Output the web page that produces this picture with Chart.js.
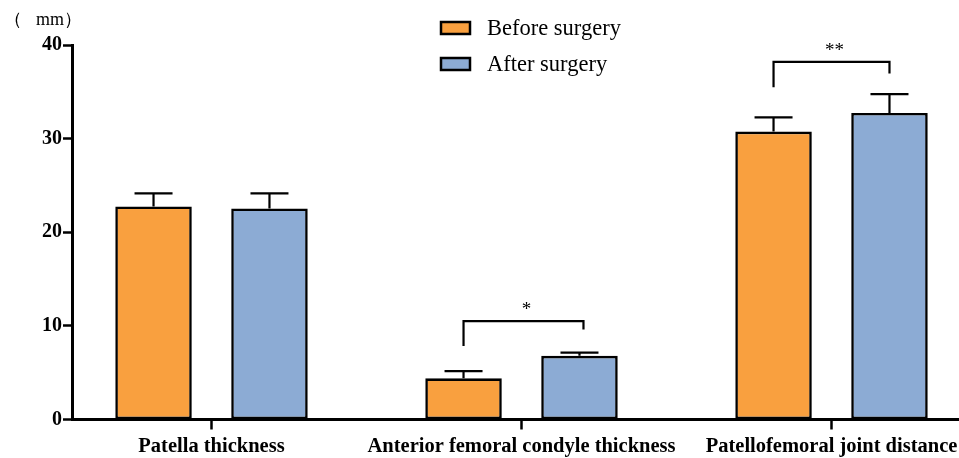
<!DOCTYPE html>
<html>
<head>
<meta charset="utf-8">
<script src="https://cdn.jsdelivr.net/npm/chart.js@4"></script>
<style>
html, body { margin: 0; padding: 0; overflow: hidden; background: #fff; }
#wrap { width: 1000px; height: 458px; }
</style>
</head>
<body>
<div id="wrap"><canvas id="chart"></canvas></div>
<script>
const categories = ['Patella thickness', 'Anterior femoral condyle thickness', 'Patellofemoral joint distance'];
const seriesNames = ['Before surgery', 'After surgery'];
const beforeMean = [22.75, 4.4, 30.75];
const beforeSD = [1.4, 0.76, 1.52];
const afterMean = [22.55, 6.8, 32.75];
const afterSD = [1.6, 0.34, 2.0];
const yTicks = [0, 10, 20, 30, 40];
// significance brackets: category, label, bracket top, left leg end, right leg end
const brackets = [
	{cat: 1, label: '*', top: 10.5, left: 7.85, right: 9.6},
	{cat: 2, label: '**', top: 38.2, left: 35.5, right: 36.95}
];

const serif = "'Liberation Serif', 'Times New Roman', serif";
const colors = ['#F9A03F', '#8CABD4'];

const extras = {
	id: 'extras',
	afterDatasetsDraw(chart)
	{
		const {ctx, scales: {y}} = chart;
		ctx.save();
		ctx.strokeStyle = '#000';
		ctx.lineWidth = 2.2;

		// error bars (upper only)
		chart.data.datasets.forEach((ds, i) => {
			chart.getDatasetMeta(i).data.forEach((bar, j) => {
				const top = y.getPixelForValue(ds.data[j].y + ds.sd[j]);
				ctx.beginPath();
				ctx.moveTo(bar.x, bar.y);
				ctx.lineTo(bar.x, top);
				ctx.moveTo(bar.x - 19, top);
				ctx.lineTo(bar.x + 19, top);
				ctx.stroke();
			});
		});

		// brackets
		ctx.fillStyle = '#000';
		ctx.textAlign = 'center';
		ctx.textBaseline = 'alphabetic';
		ctx.font = '19px ' + serif;
		brackets.forEach(b => {
			const x1 = chart.getDatasetMeta(0).data[b.cat].x;
			const x2 = chart.getDatasetMeta(1).data[b.cat].x + (b.cat === 1 ? 4 : 0);
			const yt = y.getPixelForValue(b.top);
			ctx.beginPath();
			ctx.moveTo(x1, y.getPixelForValue(b.left));
			ctx.lineTo(x1, yt);
			ctx.lineTo(x2, yt);
			ctx.lineTo(x2, y.getPixelForValue(b.right));
			ctx.stroke();
			ctx.fillText(b.label, (x1 + x2) / 2 + 3, yt - 6);
		});

		// legend
		ctx.textAlign = 'left';
		ctx.font = '22.5px ' + serif;
		chart.data.datasets.forEach((ds, i) => {
			const by = 22 + i * 36;
			ctx.fillStyle = ds.backgroundColor;
			ctx.fillRect(441, by, 29, 12);
			ctx.lineWidth = 2.5;
			ctx.strokeRect(441, by, 29, 12);
			ctx.fillStyle = '#000';
			ctx.fillText(ds.label, 487, by + 13);
		});

		// unit label
		ctx.font = '18px ' + serif;
		ctx.textAlign = 'right';
		ctx.fillText('（', 22, 25);
		ctx.textAlign = 'left';
		ctx.fillText('mm', 36, 25);
		ctx.fillText('）', 64, 25);
		ctx.restore();
	}
};

new Chart(document.getElementById('chart'), {
	type: 'bar',
	data: {
		datasets: [
			{label: seriesNames[0], data: beforeMean.map((v, i) => ({x: i, y: v})), sd: beforeSD,
				backgroundColor: colors[0]},
			{label: seriesNames[1], data: afterMean.map((v, i) => ({x: i, y: v})), sd: afterSD,
				backgroundColor: colors[1]}
		]
	},
	options: {
		responsive: true,
		maintainAspectRatio: false,
		animation: false,
		layout: {padding: {top: 45, left: 0, right: 0, bottom: 0}},
		datasets: {bar: {
			borderColor: '#000',
			borderWidth: 2.6,
			borderSkipped: false,
			categoryPercentage: 0.748,
			barPercentage: 0.66
		}},
		plugins: {legend: {display: false}, tooltip: {enabled: false}},
		scales: {
			x: {
				type: 'linear',
				min: -0.45,
				max: 2.5435,
				offset: false,
				afterBuildTicks: s => { s.ticks = categories.map((c, i) => ({value: i})); },
				afterFit: s => { s.height = 38.5; },
				ticks: {
					callback: v => categories[v],
					autoSkip: false,
					maxRotation: 0,
					padding: 5,
					color: '#000',
					font: {family: serif, size: 20.5, weight: 'bold'}
				},
				grid: {offset: false, drawOnChartArea: false, tickLength: 10, tickWidth: 2.5, tickColor: '#000'},
				border: {color: '#000', width: 3}
			},
			y: {
				min: 0,
				max: 40,
				afterBuildTicks: s => { s.ticks = yTicks.map(v => ({value: v})); },
				afterFit: s => { s.width = 72; },
				ticks: {
					padding: 1,
					color: '#000',
					font: {family: serif, size: 20, weight: 'bold'}
				},
				grid: {drawOnChartArea: false, tickLength: 9, tickWidth: 2.5, tickColor: '#000'},
				border: {color: '#000', width: 3}
			}
		}
	},
	plugins: [extras]
});
</script>
</body>
</html>
